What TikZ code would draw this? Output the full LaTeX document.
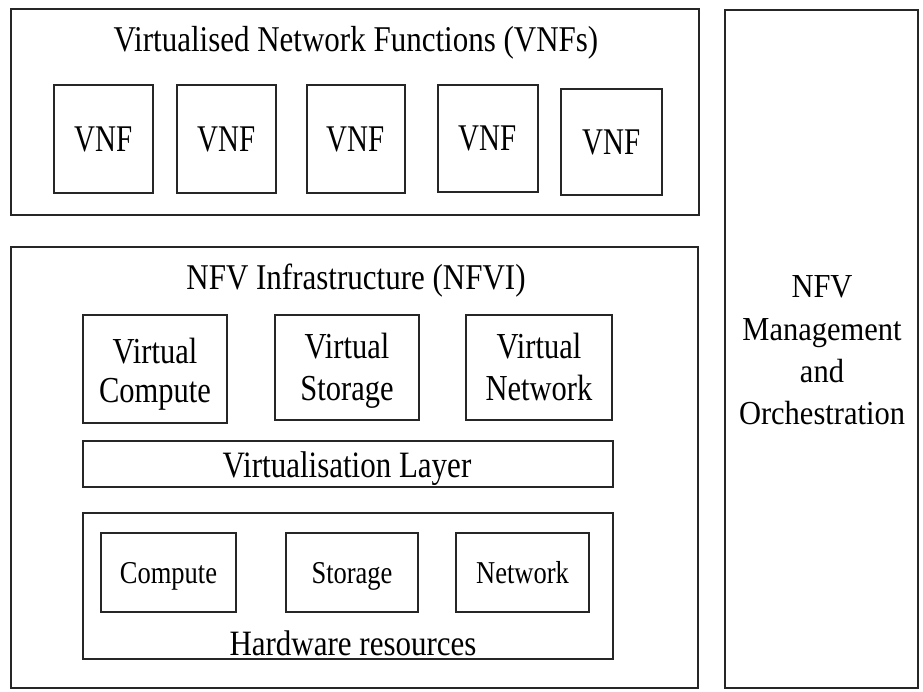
\documentclass[tikz,border=0pt]{standalone}
\usepackage{graphicx}
\usepackage{fontspec}
\setmainfont{Liberation Serif}
% tall lettering: stretch a text vertically by a factor
\newcommand\tallby[2]{\scalebox{1}[#1]{#2}}
\begin{document}
\begin{tikzpicture}[x=1pt,y=-1pt,
  frame/.style={draw=black!85, line width=1.6pt, rectangle, inner sep=0pt, outer sep=0pt},
  vnfbox/.style={frame, font=\fontsize{29}{34}\selectfont},
  bigtxt/.style={font=\fontsize{31}{38}\selectfont, inner sep=0pt, anchor=base, text=black},
  midtxt/.style={font=\fontsize{30.5}{38}\selectfont, inner sep=0pt, anchor=base, text=black},
  smalltxt/.style={font=\fontsize{26.5}{32}\selectfont, inner sep=0pt, anchor=base, text=black}
]
\useasboundingbox (0,0) rectangle (923,692);

% Virtualised network functions
\node[frame, minimum width=688, minimum height=206] (vnfs) at (355,112) {};
\node[bigtxt] (vnfstitle) at (356,52) {\tallby{1.17}{Virtualised Network Functions (VNFs)}};
\node[vnfbox, minimum width=99,  minimum height=108] (vnf1) at (103.5,139) {\tallby{1.3}{VNF}};
\node[vnfbox, minimum width=99,  minimum height=108] (vnf2) at (226.5,139) {\tallby{1.3}{VNF}};
\node[vnfbox, minimum width=98,  minimum height=108] (vnf3) at (356,139)   {\tallby{1.3}{VNF}};
\node[vnfbox, minimum width=100, minimum height=107] (vnf4) at (488,138.5) {\tallby{1.3}{VNF}};
\node[vnfbox, minimum width=101, minimum height=106] (vnf5) at (611.5,142) {\tallby{1.3}{VNF}};

% NFV infrastructure
\node[frame, minimum width=687, minimum height=441] (nfvi) at (354.5,467.5) {};
\node[bigtxt] (nfvititle) at (356,290) {\tallby{1.17}{NFV Infrastructure (NFVI)}};

\node[frame, minimum width=144, minimum height=108] (vcomp) at (155,369) {};
\node[midtxt] (vcompa) at (155,363) {\tallby{1.2}{Virtual}};
\node[midtxt] (vcompb) at (155,402) {\tallby{1.2}{Compute}};

\node[frame, minimum width=144, minimum height=105] (vstor) at (347,367.5) {};
\node[midtxt] (vstora) at (347,358) {\tallby{1.2}{Virtual}};
\node[midtxt] (vstorb) at (347,400) {\tallby{1.2}{Storage}};

\node[frame, minimum width=146, minimum height=105] (vnet) at (539,367.5) {};
\node[midtxt] (vneta) at (539,358) {\tallby{1.2}{Virtual}};
\node[midtxt] (vnetb) at (539,400) {\tallby{1.2}{Network}};

\node[frame, minimum width=530, minimum height=46] (vlayer) at (348,464) {};
\node[bigtxt] (vlayertxt) at (347,477) {\tallby{1.2}{Virtualisation Layer}};

% Hardware resources
\node[frame, minimum width=530, minimum height=146] (hw) at (348,586) {};
\node[frame, minimum width=135, minimum height=79] (comp) at (168.5,572.5) {};
\node[smalltxt] (comptxt) at (168.5,583) {\tallby{1.2}{Compute}};
\node[frame, minimum width=132, minimum height=79] (stor) at (352,572.5) {};
\node[smalltxt] (stortxt) at (352,583) {\tallby{1.2}{Storage}};
\node[frame, minimum width=133, minimum height=79] (net) at (522.5,572.5) {};
\node[smalltxt] (nettxt) at (522.5,583) {\tallby{1.2}{Network}};
\node[bigtxt] (hwtxt) at (353,655) {\tallby{1.15}{Hardware resources}};

% Management and orchestration
\node[frame, minimum width=193, minimum height=678] (mano) at (821.5,349) {};
\node[midtxt] (manoa) at (822,298) {\tallby{1.1}{NFV}};
\node[midtxt] (manob) at (822,341) {\tallby{1.1}{Management}};
\node[midtxt] (manoc) at (822,382) {\tallby{1.1}{and}};
\node[midtxt] (manod) at (822,424) {\tallby{1.1}{Orchestration}};
\end{tikzpicture}
\end{document}
